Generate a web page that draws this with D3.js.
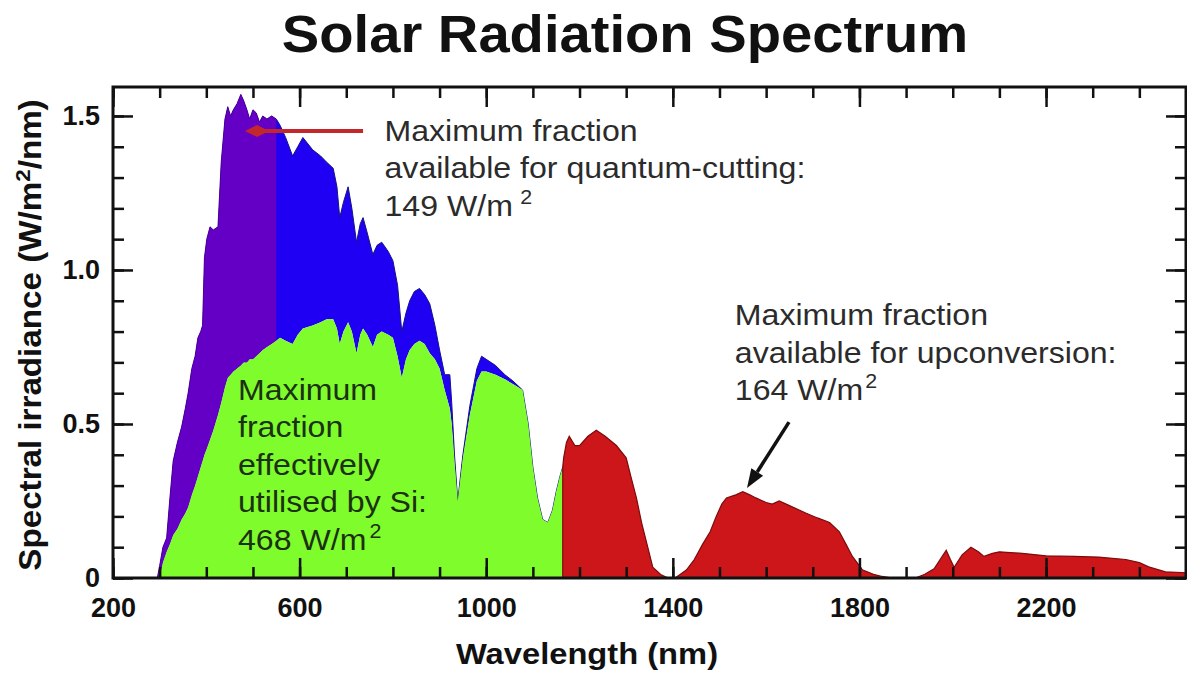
<!DOCTYPE html>
<html>
<head>
<meta charset="utf-8">
<script src="https://cdn.jsdelivr.net/npm/d3@7"></script>
<style>
body { margin: 0; background: #fff; }
text { font-family: "Liberation Sans", Arial, sans-serif; }
</style>
</head>
<body>
<svg></svg>
<script>
// UV / visible / near-IR part: full spectrum and the part Si can use
let nmVis = [295, 300, 307, 315, 322, 329, 338, 347, 355, 361, 369, 376, 382, 388, 392, 396, 401, 408, 415, 425,
    432, 440, 446, 452, 458, 466, 474, 480, 487, 493, 500, 507, 514, 521, 530, 540, 550, 558, 570, 585,
    596, 607, 628, 645, 658, 672, 680, 686, 694, 704, 712, 722, 730, 736, 745, 757, 766, 776, 790, 800,
    810, 819, 828, 836, 846, 857, 868, 879, 890, 900, 911, 922, 926, 932, 939, 950, 965, 980, 990, 1000,
    1020, 1040, 1057, 1078, 1090, 1100, 1110, 1121, 1132, 1142, 1150, 1158, 1164]
let totalVis = [0, 0.04, 0.10, 0.13, 0.26, 0.38, 0.44, 0.49, 0.55, 0.60, 0.68, 0.72, 0.78, 0.80, 0.82, 1.04, 1.10, 1.14, 1.13, 1.14,
    1.35, 1.49, 1.53, 1.50, 1.52, 1.54, 1.57, 1.55, 1.52, 1.49, 1.52, 1.51, 1.48, 1.50, 1.49, 1.50, 1.49, 1.47, 1.43, 1.37,
    1.40, 1.43, 1.39, 1.37, 1.35, 1.33, 1.27, 1.17, 1.22, 1.27, 1.20, 1.09, 1.15, 1.17, 1.12, 1.05, 1.08, 1.09, 1.06, 1.03,
    0.95, 0.80, 0.86, 0.90, 0.93, 0.94, 0.92, 0.89, 0.82, 0.74, 0.66, 0.66, 0.57, 0.40, 0.25, 0.40, 0.56, 0.68, 0.72, 0.71,
    0.69, 0.66, 0.64, 0.61, 0.50, 0.36, 0.26, 0.19, 0.18, 0.22, 0.28, 0.33, 0.36]
let siVis = [0, 0, 0.05, 0.085, 0.11, 0.14, 0.16, 0.19, 0.21, 0.23, 0.27, 0.30, 0.33, 0.36, 0.38, 0.40, 0.42, 0.45, 0.48, 0.53,
    0.57, 0.62, 0.65, 0.66, 0.67, 0.68, 0.69, 0.70, 0.70, 0.71, 0.71, 0.72, 0.73, 0.74, 0.75, 0.76, 0.77, 0.78, 0.77, 0.76,
    0.79, 0.81, 0.82, 0.83, 0.84, 0.84, 0.81, 0.76, 0.80, 0.83, 0.80, 0.73, 0.79, 0.81, 0.79, 0.75, 0.79, 0.80, 0.79, 0.78,
    0.72, 0.65, 0.71, 0.74, 0.76, 0.77, 0.76, 0.73, 0.71, 0.68, 0.61, 0.55, 0.50, 0.38, 0.25, 0.39, 0.53, 0.64, 0.67, 0.67,
    0.66, 0.645, 0.63, 0.61, 0.50, 0.36, 0.26, 0.19, 0.18, 0.22, 0.28, 0.33, 0.36]

// infrared part beyond the Si band edge
let nmIr = [1164, 1166, 1172, 1178, 1190, 1200, 1218, 1236, 1255, 1279, 1300, 1310, 1322, 1333, 1343, 1357, 1375, 1390, 1405, 1429,
    1446, 1464, 1480, 1493, 1505, 1515, 1535, 1550, 1565, 1578, 1600, 1613, 1628, 1650, 1686, 1710, 1736, 1757, 1771, 1785,
    1806, 1830, 1849, 1870, 1920, 1940, 1960, 1975, 1986, 1995, 2003, 2020, 2039, 2055, 2067, 2085, 2100, 2149, 2200, 2260,
    2313, 2371, 2400, 2420, 2456, 2500]
let totalIr = [0.36, 0.39, 0.44, 0.46, 0.43, 0.43, 0.46, 0.48, 0.46, 0.43, 0.39, 0.33, 0.26, 0.18, 0.12, 0.035, 0.01, 0, 0, 0.026,
    0.06, 0.11, 0.15, 0.20, 0.24, 0.26, 0.27, 0.28, 0.27, 0.26, 0.245, 0.24, 0.25, 0.235, 0.21, 0.195, 0.18, 0.15, 0.11, 0.07,
    0.027, 0.012, 0.005, 0, 0, 0.012, 0.03, 0.065, 0.09, 0.06, 0.035, 0.075, 0.10, 0.085, 0.07, 0.08, 0.085, 0.08, 0.072, 0.07,
    0.068, 0.06, 0.05, 0.036, 0.02, 0.017]

let qcCutoff = 550
let xMajor = [200, 600, 1000, 1400, 1800, 2200]
let yMajor = [0, 0.5, 1.0, 1.5]
let yLabels = ["0", "0.5", "1.0", "1.5"]

var svg = d3.select("svg")
    .attr("width", 1187)
    .attr("height", 675)

var margin = {top: 87, right: 1, bottom: 97, left: 113}
var graphWidth = 1187 - margin.left - margin.right
var graphHeight = 675 - margin.top - margin.bottom

var mainCanvas = svg.append("g")
    .attr("transform", `translate(${margin.left}, ${margin.top})`)

let scX = d3.scaleLinear().domain([200, 2500]).range([0, graphWidth])
let scY = d3.scaleLinear().domain([0, 1.594]).range([graphHeight, 0])

let vis = nmVis.map((d, i) => ({nm: d, tot: totalVis[i], si: siVis[i]}))
let ir = nmIr.map((d, i) => ({nm: d, tot: totalIr[i]}))

let band = d3.area()
    .x(d => scX(d.nm))
    .y0(d => scY(d.si))
    .y1(d => scY(d.tot))

let topLine = d3.line()
    .x(d => scX(d.nm))
    .y(d => scY(d.tot))

let siArea = d3.area()
    .x(d => scX(d.nm))
    .y0(graphHeight)
    .y1(d => scY(d.si))

let irArea = d3.area()
    .x(d => scX(d.nm))
    .y0(graphHeight)
    .y1(d => scY(d.tot))

let uvPart = vis.filter(d => d.nm <= qcCutoff)
let visPart = vis.filter(d => d.nm >= qcCutoff)

// blue under the whole band, purple laid over the short-wave part (no seam)
mainCanvas.append("path")
    .attr("d", band(vis))
    .attr("fill", "#2000f2")
mainCanvas.append("path")
    .attr("d", topLine(visPart))
    .attr("fill", "none")
    .attr("stroke", "#12128a").attr("stroke-width", 1)

mainCanvas.append("path")
    .attr("d", band(uvPart))
    .attr("fill", "#6400c6")
mainCanvas.append("path")
    .attr("d", topLine(uvPart))
    .attr("fill", "none")
    .attr("stroke", "#4a0096").attr("stroke-width", 1)

mainCanvas.append("path")
    .attr("d", siArea(vis))
    .attr("fill", "#7efc2c")

mainCanvas.append("path")
    .attr("d", irArea(ir))
    .attr("fill", "#cc161a")
    .attr("stroke", "#7a0c0c").attr("stroke-width", 1.2)

// axes: inward ticks on all four sides
function styleAxis(sel) {
    sel.select(".domain").remove()
    sel.selectAll("line").attr("stroke", "#111").attr("stroke-width", 2.5)
    sel.selectAll("text")
        .attr("fill", "#111")
        .attr("font-size", 27)
        .attr("font-weight", "bold")
}

let xMinor = d3.range(200, 2501, 100)
let yMinor = d3.range(0, 1.55, 0.1)

mainCanvas.append("g").attr("transform", `translate(0, ${graphHeight})`)
    .call(d3.axisBottom(scX).tickValues(xMinor).tickSize(-11).tickFormat("")).call(styleAxis)
mainCanvas.append("g").attr("transform", `translate(0, ${graphHeight})`)
    .call(d3.axisBottom(scX).tickValues(xMajor).tickSize(-20).tickPadding(20)
        .tickFormat(d3.format("d"))).call(styleAxis)
mainCanvas.append("g")
    .call(d3.axisTop(scX).tickValues(xMinor).tickSize(-11).tickFormat("")).call(styleAxis)
mainCanvas.append("g")
    .call(d3.axisTop(scX).tickValues(xMajor).tickSize(-20).tickFormat("")).call(styleAxis)

mainCanvas.append("g")
    .call(d3.axisLeft(scY).tickValues(yMinor).tickSize(-11).tickFormat("")).call(styleAxis)
mainCanvas.append("g")
    .call(d3.axisLeft(scY).tickValues(yMajor).tickSize(-20).tickPadding(13)
        .tickFormat((d, i) => yLabels[i])).call(styleAxis)
mainCanvas.append("g").attr("transform", `translate(${graphWidth}, 0)`)
    .call(d3.axisRight(scY).tickValues(yMinor).tickSize(-11).tickFormat("")).call(styleAxis)
mainCanvas.append("g").attr("transform", `translate(${graphWidth}, 0)`)
    .call(d3.axisRight(scY).tickValues(yMajor).tickSize(-20).tickFormat("")).call(styleAxis)

mainCanvas.append("rect")
    .attr("width", graphWidth)
    .attr("height", graphHeight)
    .attr("fill", "none")
    .attr("stroke", "#111")
    .attr("stroke-width", 3)

// titles
svg.append("text")
    .attr("transform", "translate(625, 52) scale(1.08, 1)")
    .attr("text-anchor", "middle")
    .attr("font-size", 52)
    .attr("font-weight", "bold")
    .attr("fill", "#111")
    .text("Solar Radiation Spectrum")

svg.append("text")
    .attr("transform", "translate(587, 664) scale(1.09, 1)")
    .attr("text-anchor", "middle")
    .attr("font-size", 30)
    .attr("font-weight", "bold")
    .attr("fill", "#111")
    .text("Wavelength (nm)")

let yTitle = svg.append("text")
    .attr("transform", "translate(41, 335) rotate(-90) scale(1.07, 1)")
    .attr("text-anchor", "middle")
    .attr("font-size", 31)
    .attr("font-weight", "bold")
    .attr("fill", "#111")
yTitle.append("tspan").text("Spectral irradiance (W/m")
yTitle.append("tspan").attr("font-size", 21).attr("dy", -11).text("2")
yTitle.append("tspan").attr("dy", 11).text("/nm)")

// annotations
function note(nm, irr, lines, colour, supGap) {
    let t = mainCanvas.append("text")
        .attr("transform", `translate(${scX(nm)}, ${scY(irr)}) scale(1.07, 1)`)
        .attr("font-size", 30)
        .attr("fill", colour)
    lines.forEach((ln, i) => {
        let last = i == lines.length - 1
        t.append("tspan").attr("x", 0).attr("y", i * 37.5).text(ln)
        if (last) {
            t.append("tspan").attr("font-size", 20).attr("dx", supGap).attr("dy", -12).text("2")
        }
    })
}

note(782, 1.42, ["Maximum fraction", "available for quantum-cutting:", "149 W/m"], "#2b2b2b", 7)
note(1533, 0.821, ["Maximum fraction", "available for upconversion:", "164 W/m"], "#2b2b2b", 2)
note(468, 0.578, ["Maximum", "fraction", "effectively", "utilised by Si:", "468 W/m"], "#1c3012", 3)

// red arrow pointing into the quantum-cutting band
let rTip = [scX(483), scY(1.451)]
let rTail = [scX(736), scY(1.451)]
mainCanvas.append("line")
    .attr("x1", rTip[0] + 18).attr("y1", rTip[1])
    .attr("x2", rTail[0]).attr("y2", rTail[1])
    .attr("stroke", "#c3262b").attr("stroke-width", 4)
mainCanvas.append("path")
    .attr("d", `M${rTip[0]},${rTip[1]} L${rTip[0] + 12},${rTip[1] - 6} L${rTip[0] + 24},${rTip[1]} L${rTip[0] + 12},${rTip[1] + 6} Z`)
    .attr("fill", "#c3262b")

// black arrow to the upconversion band
let bTip = [scX(1559), scY(0.292)]
let bTail = [scX(1649), scY(0.506)]
let ang = Math.atan2(bTip[1] - bTail[1], bTip[0] - bTail[0])
let headLen = 19, headW = 7
let base = [bTip[0] - headLen * Math.cos(ang), bTip[1] - headLen * Math.sin(ang)]
mainCanvas.append("line")
    .attr("x1", bTail[0]).attr("y1", bTail[1])
    .attr("x2", base[0]).attr("y2", base[1])
    .attr("stroke", "#111").attr("stroke-width", 3.5)
mainCanvas.append("path")
    .attr("d", `M${bTip[0]},${bTip[1]} L${base[0] + headW * Math.sin(ang)},${base[1] - headW * Math.cos(ang)} L${base[0] - headW * Math.sin(ang)},${base[1] + headW * Math.cos(ang)} Z`)
    .attr("fill", "#111")
</script>
</body>
</html>
